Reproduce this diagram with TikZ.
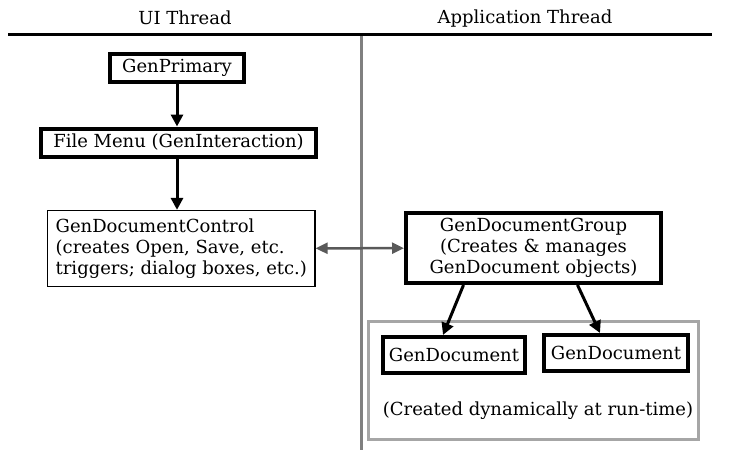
\documentclass[tikz,border=0pt]{standalone}
\usepackage{fontspec}
\setmainfont{DejaVu Serif}
\usetikzlibrary{arrows.meta}

\tikzset{
	thickbox/.style={draw, line width=4pt, inner sep=0pt, align=center},
	thinbox/.style={draw, line width=1.3pt, inner xsep=8pt, inner ysep=0pt},
	flow/.style={line width=3pt, -{Triangle[length=12pt,width=12pt]}},
	link/.style={line width=2.5pt, draw=black!65, {Triangle[length=12pt,width=11pt]}-{Triangle[length=12pt,width=11pt]}}
}

\begin{document}
\begin{tikzpicture}[x=1pt, y=-1pt, font=\fontsize{18}{21}\selectfont]
	\useasboundingbox (0, 0) rectangle (730, 450);

	% thread headers
	\node (uihead) at (185, 18) {UI Thread};
	\node (apphead) at (525, 19) {Application Thread};
	\coordinate (topleft) at (8, 34);
	\coordinate (topright) at (712, 34);
	\coordinate (splittop) at (361, 35);
	\coordinate (splitbot) at (361, 450);
	\draw[line width=3pt, draw=black!50] (splittop) -- (splitbot);
	\draw[line width=3pt] (topleft) -- (topright);

	% UI thread side
	\node[thickbox, minimum width=134pt, minimum height=28pt] (primary) at (177, 67.5) {GenPrimary};
	\node[thickbox, minimum width=275pt, minimum height=28pt] (filemenu) at (178.5, 142.5) {File Menu (GenInteraction)};
	\node[thinbox, minimum height=76pt, align=left, anchor=west] (doccontrol) at (47, 248.5)
		{GenDocumentControl\\(creates Open, Save, etc.\\triggers; dialog boxes, etc.)};

	\draw[flow] (primary.south) -- (primary.south |- filemenu.north);
	\draw[flow] (filemenu.south -| primary.south) -- (primary.south |- doccontrol.north);

	% application thread side
	\node[thickbox, minimum width=255pt, minimum height=70pt] (docgroup) at (533.5, 248)
		{GenDocumentGroup\\(Creates \& manages\\GenDocument objects)};
	\node[draw=black!35, line width=3pt, minimum width=330pt, minimum height=118pt] (dynbox) at (533.5, 380.5) {};
	\node[thickbox, minimum width=142pt, minimum height=36pt] (docone) at (454, 355) {GenDocument};
	\node[thickbox, minimum width=144pt, minimum height=36pt] (doctwo) at (616, 353) {GenDocument};
	\node (dynnote) at (538, 411) {(Created dynamically at run-time)};

	\draw[link] (doccontrol) -- (docgroup);
	\draw[flow] ([xshift=-70pt]docgroup.south) -- ([xshift=-11pt]docone.north);
	\draw[flow] ([xshift=44pt]docgroup.south) -- ([xshift=-16pt]doctwo.north);
\end{tikzpicture}
\end{document}
